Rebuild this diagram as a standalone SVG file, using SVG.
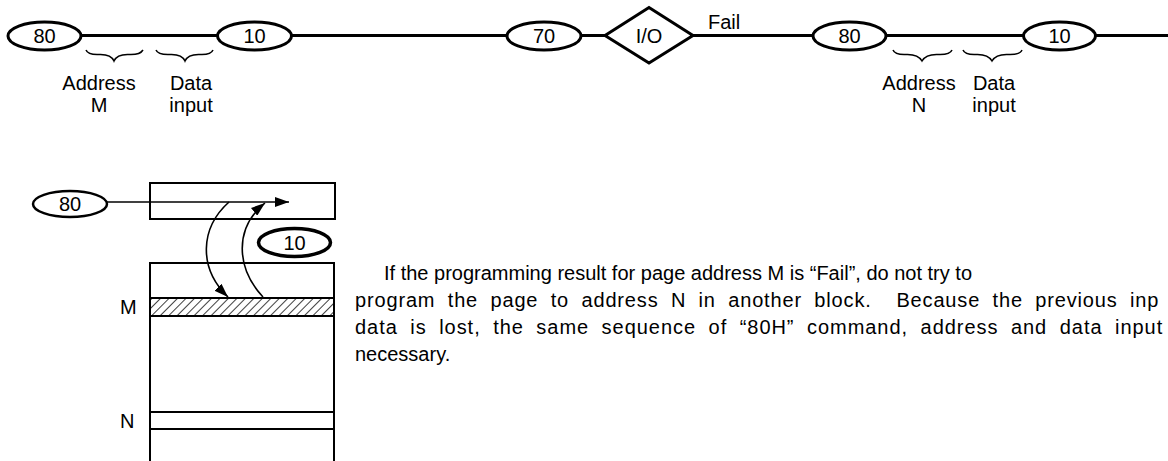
<svg xmlns="http://www.w3.org/2000/svg" width="1168" height="461" viewBox="0 0 1168 461">
<style>
  text { font-family: "Liberation Sans", Arial, sans-serif; fill: #000; }
  .lbl { font-size: 20px; text-anchor: middle; }
  .num { font-size: 20px; text-anchor: middle; }
  .para { font-size: 20px; white-space: pre; }
  .thick { fill: #fff; stroke: #000; stroke-width: 3; }
  .seq { fill: none; stroke: #000; stroke-width: 3; }
  .brace { fill: none; stroke: #000; stroke-width: 1.5; }
  .box { fill: #fff; stroke: #000; stroke-width: 2; }
  .thin { fill: none; stroke: #000; stroke-width: 1.6; }
</style>
<defs>
  <marker id="ah" markerWidth="14" markerHeight="10" refX="14" refY="5" orient="auto" markerUnits="userSpaceOnUse">
    <path d="M0,0 L14,5 L0,10 Z" fill="#000"/>
  </marker>
  <pattern id="hatch" width="6" height="6" patternUnits="userSpaceOnUse" patternTransform="rotate(45)">
    <line x1="0" y1="0" x2="0" y2="6" stroke="#000" stroke-width="1.5"/>
  </pattern>
</defs>

<g id="connectors">
  <line class="seq" x1="81" y1="35.5" x2="217" y2="35.5"/>
  <line class="seq" x1="292" y1="35.5" x2="507" y2="35.5"/>
  <line class="seq" x1="581" y1="35.5" x2="605" y2="35.5"/>
  <line class="seq" x1="693" y1="35.5" x2="813" y2="35.5"/>
  <line class="seq" x1="886" y1="35.5" x2="1024" y2="35.5"/>
  <line class="seq" x1="1095" y1="35.5" x2="1168" y2="35.5"/>
</g>

<g id="node-80a">
  <ellipse class="thick" cx="44.5" cy="36" rx="36.5" ry="14"/>
  <text class="num" x="44.5" y="43">80</text>
</g>
<g id="node-10a">
  <ellipse class="thick" cx="254.5" cy="36" rx="37" ry="14"/>
  <text class="num" x="254.5" y="43">10</text>
</g>
<g id="node-70">
  <ellipse class="thick" cx="544" cy="36" rx="37" ry="14"/>
  <text class="num" x="544" y="43">70</text>
</g>
<g id="node-io">
  <polygon class="thick" points="605,35.5 649,7.5 693,35.5 649,63"/>
  <text class="lbl" x="649" y="43">I/O</text>
  <text style="font-size:20px" x="708" y="29">Fail</text>
</g>
<g id="node-80b">
  <ellipse class="thick" cx="849.5" cy="36" rx="36.5" ry="14"/>
  <text class="num" x="849.5" y="43">80</text>
</g>
<g id="node-10b">
  <ellipse class="thick" cx="1059.5" cy="36" rx="36" ry="14"/>
  <text class="num" x="1059.5" y="43">10</text>
</g>

<g id="labels-left">
  <path class="brace" d="M86,50 Q88,55 99,54.5 Q111,54 114,61 Q117,54 129,54.5 Q140,55 143,50"/>
  <path class="brace" d="M156,50 Q158,55 170,54.5 Q182,54 185,61 Q188,54 200,54.5 Q211,55 213,50"/>
  <text class="lbl" x="99" y="90">Address</text>
  <text class="lbl" x="99" y="112">M</text>
  <text class="lbl" x="191" y="90">Data</text>
  <text class="lbl" x="191" y="112">input</text>
</g>
<g id="labels-right">
  <path class="brace" d="M893,50 Q895,55 906,54.5 Q918,54 922,61 Q926,54 938,54.5 Q950,55 952,50"/>
  <path class="brace" d="M963,50 Q965,55 976,54.5 Q988,54 992,61 Q996,54 1008,54.5 Q1020,55 1022,50"/>
  <text class="lbl" x="919" y="90">Address</text>
  <text class="lbl" x="919" y="112">N</text>
  <text class="lbl" x="994" y="90">Data</text>
  <text class="lbl" x="994" y="112">input</text>
</g>

<g id="register">
  <rect class="box" x="150" y="183" width="185" height="36"/>
</g>
<g id="memory">
  <path class="box" d="M150,461 V263 H334 V461"/>
  <rect x="150" y="298" width="184" height="18" fill="url(#hatch)" stroke="#000" stroke-width="2"/>
  <rect x="150" y="412" width="184" height="17" fill="none" stroke="#000" stroke-width="2"/>
  <text style="font-size:20px" x="120" y="314">M</text>
  <text style="font-size:20px" x="120" y="428">N</text>
</g>
<g id="node-80c">
  <ellipse class="thick" style="stroke-width:2.5" cx="70" cy="204" rx="37" ry="13"/>
  <text class="num" x="70" y="211">80</text>
</g>
<g id="node-10c">
  <ellipse class="thick" style="stroke-width:3.5" cx="294.5" cy="242.5" rx="36" ry="14"/>
  <text class="num" x="294.5" y="249.5">10</text>
</g>
<g id="connectors-lower">
  <line class="thin" x1="107" y1="202" x2="289" y2="202" marker-end="url(#ah)"/>
  <path class="thin" d="M229,202 C200,228 198,268 228,297" marker-end="url(#ah)"/>
  <path class="thin" d="M263,297 C236,268 234,228 265,203" marker-end="url(#ah)"/>
</g>

<g id="paragraph">
  <text class="para" x="384" y="280">If the programming result for page address M is “Fail”, do not try to</text>
  <text class="para" x="355" y="307" style="word-spacing:6px;letter-spacing:0.84px">program the page to address N in another block.  Because the previous inp</text>
  <text class="para" x="355" y="334" style="word-spacing:6px;letter-spacing:0.96px">data is lost, the same sequence of “80H” command, address and data input</text>
  <text class="para" x="355" y="361">necessary.</text>
</g>
</svg>
